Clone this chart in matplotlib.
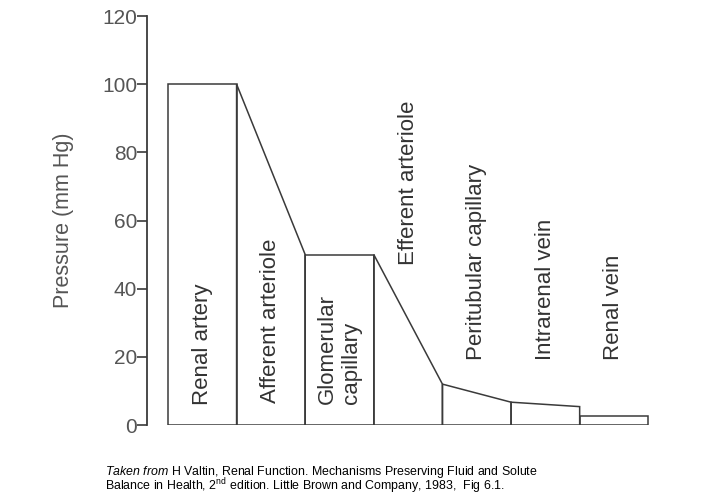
import matplotlib.pyplot as plt
from matplotlib.patches import Polygon

plt.rcParams['font.family'] = ['Liberation Sans', 'DejaVu Sans']
plt.rcParams['mathtext.fontset'] = 'custom'
plt.rcParams['mathtext.rm'] = 'Liberation Sans'
plt.rcParams['mathtext.it'] = 'Liberation Sans:italic'

# Segmente des Nierengefaesssystems und Druck am Anfang / Ende (mm Hg)
segments = ["Renal artery", "Afferent arteriole", "Glomerular\ncapillary",
            "Efferent arteriole", "Peritubular capillary", "Intrarenal vein",
            "Renal vein"]
p_start = [100, 100, 50, 50, 12, 6.7, 2.6]
p_end = [100, 50, 50, 12, 6.7, 5.4, 2.6]
label_y = [6, 6.5, 6.3, 47, 19, 19, 19]
yticks = [0, 20, 40, 60, 80, 100, 120]

line_col = '#3a3a3a'
text_col = '#333333'

fig = plt.figure(figsize=(7.10, 5.04), dpi=100)
ax = fig.add_axes([0.207, 0.1567, 0.7225, 0.8115])

for i, name in enumerate(segments):
    poly = Polygon([(i, 0), (i, p_start[i]), (i + 1, p_end[i]), (i + 1, 0)],
                   closed=True, facecolor='none', edgecolor=line_col, lw=1.1)
    ax.add_patch(poly)
    ax.text(i + 0.5, label_y[i], name, rotation=90, ha='center', va='bottom',
            multialignment='left', fontsize=16, color=text_col, linespacing=1.2)

ax.set_xlim(-0.306, 7.17)
ax.set_ylim(0, 120)
ax.set_yticks(yticks)
ax.set_xticks([])
for s in ['top', 'right', 'bottom']:
    ax.spines[s].set_visible(False)
ax.spines['left'].set_color(line_col)
ax.spines['left'].set_linewidth(1.3)
ax.tick_params(axis='y', length=7, width=1.2, color=line_col, pad=0,
               labelsize=15, labelcolor='#555555')
ax.set_ylabel("Pressure (mm Hg)", fontsize=15.5, color='#555555', labelpad=20)

caption = (r"$\it{Taken\ from}$ H Valtin, Renal Function. Mechanisms Preserving Fluid and Solute"
           "\n"
           r"Balance in Health, 2$^{\mathrm{nd}}$ edition. Little Brown and Company, 1983,  Fig 6.1.")
fig.text(0.148, 0.016, caption, fontsize=8.9, color='black', va='bottom',
         linespacing=0.72)

fig.savefig('out.png', dpi=100)
